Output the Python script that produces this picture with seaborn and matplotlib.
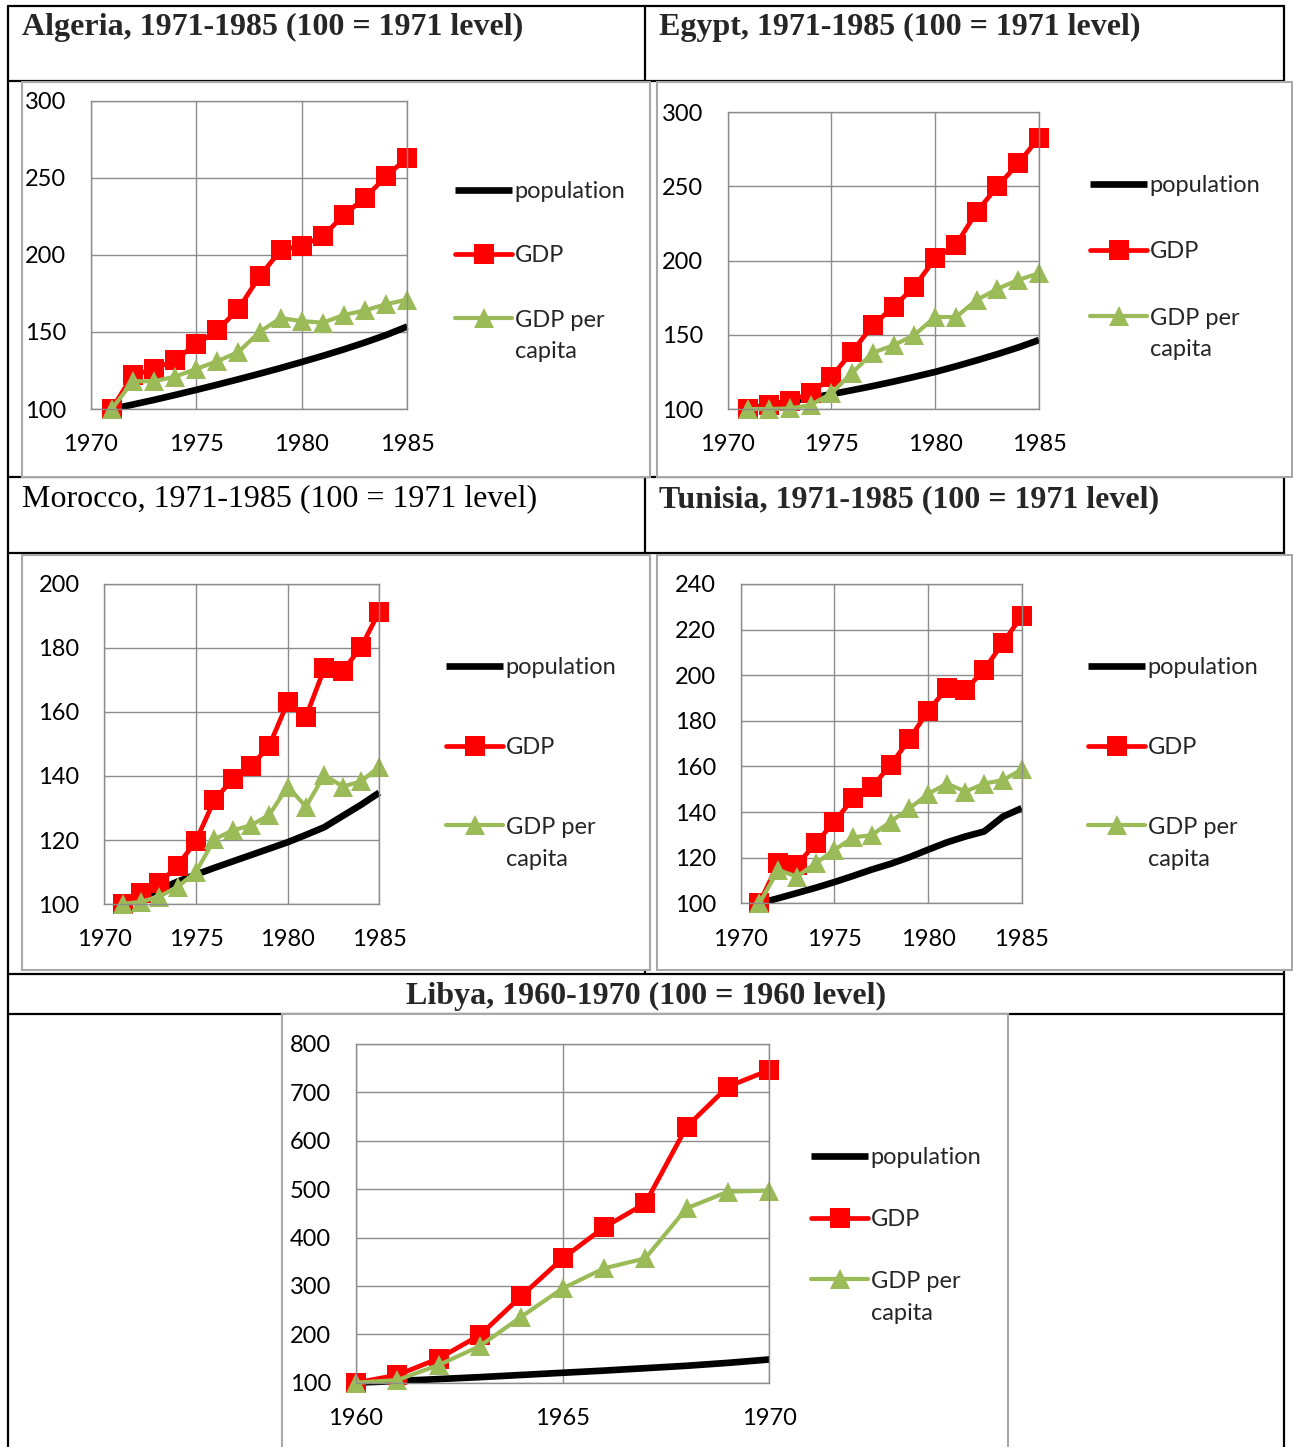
import matplotlib
matplotlib.use("Agg")
import matplotlib.pyplot as plt
import seaborn as sns
from matplotlib.patches import Rectangle
from matplotlib.lines import Line2D

# data (index, 100 = first year)
years_7185 = list(range(1971, 1986))
years_6070 = list(range(1960, 1971))

algeria_pop = [100, 102.9, 105.9, 109.1, 112.4, 115.8, 119.3, 122.9, 126.6, 130.5, 134.5, 138.7, 143.2, 148, 153.5]
algeria_gdp = [100, 122, 125.7, 132, 142, 151, 165, 186, 203, 206, 212, 226, 237, 251, 263]
algeria_gdppc = [100, 118, 118, 121, 126, 131, 137, 150, 159, 157, 156, 161, 164, 168, 171]

egypt_pop = [100, 102.5, 105, 107.5, 110, 112.7, 115.5, 118.5, 121.7, 125, 128.8, 132.8, 137, 141.5, 146.5]
egypt_gdp = [100, 102.7, 105.6, 110.6, 121.8, 138.7, 156.6, 169, 182.5, 201.6, 210.6, 233, 250, 265.6, 283]
egypt_gdppc = [100, 100, 100.4, 102.7, 110.6, 124.5, 138, 143, 150, 162, 162, 173.5, 181, 187, 191.5]

morocco_pop = [100, 102, 104.5, 107, 109.2, 111.3, 113.3, 115.3, 117.3, 119.3, 121.6, 124, 127.5, 131, 134.8]
morocco_gdp = [100, 103.3, 106.5, 112, 119.7, 132.5, 139, 143, 149.5, 163, 158.5, 173.6, 172.8, 180.2, 191.4]
morocco_gdppc = [100, 100.7, 102.3, 105.4, 110, 120.2, 123, 124.6, 127.8, 136.7, 130.4, 140.3, 136.7, 138.3, 142.9]

tunisia_pop = [100, 102.2, 104.5, 106.8, 109.3, 112, 114.8, 117.3, 120.2, 123.5, 126.7, 129.3, 131.5, 138, 141.7]
tunisia_gdp = [100, 117.5, 116.8, 126.3, 135.8, 146, 151, 160.6, 171.9, 184.3, 194.2, 193.5, 202.5, 214.2, 226]
tunisia_gdppc = [100, 114.6, 111.7, 117.5, 123.4, 128.9, 129.9, 135.8, 141.6, 147.9, 152.5, 149, 152.5, 154, 158.7]

libya_pop = [100, 103.5, 107.5, 111.5, 116, 120.5, 125, 130, 135, 141, 148]
libya_gdp = [100, 115.8, 150, 198.5, 279, 357, 421, 470.7, 629, 712, 746]
libya_gdppc = [100, 105.5, 136.5, 175.8, 236.4, 295, 336.3, 357, 460.4, 494.8, 497]

legend_labels = ["population", "GDP", "GDP per"]
legend_extra = "capita"

sns.set_theme(style="white")
plt.rcParams['font.family'] = ['Lato', 'DejaVu Sans']

W, H = 1293, 1447
fig = plt.figure(figsize=(W / 100, H / 100), dpi=100)


def fx(x):
    return x / W


def fy(y):
    return 1 - y / H


GRID = '#8c8c8c'
BOX = '#a8a8a8'
FS = 17


def tline(x0, y0, x1, y1):
    fig.add_artist(Line2D([fx(x0), fx(x1)], [fy(y0), fy(y1)], color='black',
                          lw=1.6, zorder=-3, transform=fig.transFigure))


# table borders
for y in [6, 81, 477, 553, 974, 1013.5]:
    tline(8, y, 1284, y)
tline(8, 6, 8, 1447)
tline(1283.5, 6, 1283.5, 1447)
tline(644.5, 6, 644.5, 974)

serif = ['Liberation Serif', 'DejaVu Serif']
fig.text(fx(22), fy(27), "Algeria, 1971-1985 (100 = 1971 level)", ha='left', va='center',
         family=serif, weight='bold', size=23)
fig.text(fx(659), fy(27), "Egypt, 1971-1985 (100 = 1971 level)", ha='left', va='center',
         family=serif, weight='bold', size=23)
fig.text(fx(22), fy(499), "Morocco, 1971-1985 (100 = 1971 level)", ha='left', va='center',
         family=serif, size=23, color='black')
fig.text(fx(659), fy(500), "Tunisia, 1971-1985 (100 = 1971 level)", ha='left', va='center',
         family=serif, weight='bold', size=23)
fig.text(fx(646), fy(996), "Libya, 1960-1970 (100 = 1960 level)", ha='center', va='center',
         family=serif, weight='bold', size=23)


def chart(box, area, years, pop, gdp, gdppc, xticks, yticks, leg_x, leg_y, leg_gap):
    x0, y0, x1, y1 = box
    fig.add_artist(Rectangle((fx(x0), fy(y1)), fx(x1) - fx(x0), fy(y0) - fy(y1),
                             facecolor='white', edgecolor=BOX, lw=1.5, zorder=-2,
                             transform=fig.transFigure))
    a0, b0, a1, b1 = area
    ax = fig.add_axes([fx(a0), fy(b1), fx(a1) - fx(a0), fy(b0) - fy(b1)])

    sns.lineplot(x=years, y=pop, ax=ax, color='black', linewidth=4.8,
                 solid_capstyle='butt', clip_on=False)
    sns.lineplot(x=years, y=gdp, ax=ax, color='#ff0000', linewidth=3.4, marker='s',
                 markersize=14.5, markeredgewidth=0, clip_on=False)
    sns.lineplot(x=years, y=gdppc, ax=ax, color='#9bbb59', linewidth=3.0, marker='^',
                 markersize=14.5, markeredgewidth=0, clip_on=False)

    ax.set_xlim(xticks[0], xticks[-1])
    ax.set_ylim(yticks[0], yticks[-1])
    ax.set_xticks(xticks)
    ax.set_yticks(yticks)
    ax.set_xlabel('')
    ax.set_ylabel('')
    ax.grid(True, color=GRID, lw=1.0)
    ax.set_axisbelow(True)
    for s in ax.spines.values():
        s.set_color(GRID)
        s.set_linewidth(1.0)
    ax.tick_params(axis='both', direction='out', length=5.8, width=1.0, color=GRID,
                   labelsize=FS, labelcolor='black')
    ax.tick_params(axis='y', pad=12)
    ax.tick_params(axis='x', pad=12.5)
    ax.patch.set_alpha(0)

    fs_px = FS * 100 / 72
    row_h = 0.92 * fs_px
    top = leg_y + 2 - row_h / 2
    ax.legend(ax.get_lines()[:3], legend_labels, loc='upper left',
              bbox_to_anchor=(fx(leg_x), fy(top)),
              bbox_transform=fig.transFigure, frameon=False, fontsize=FS,
              handlelength=57 / fs_px, handletextpad=0.12,
              labelspacing=(leg_gap - row_h) / fs_px, borderpad=0,
              borderaxespad=0)
    fig.text(fx(leg_x + 57 + 0.12 * fs_px), fy(leg_y + 2 * leg_gap + 32), legend_extra,
             ha='left', va='center', fontsize=FS)
    return ax


chart((22, 82, 650, 477), (90.7, 100.7, 407.3, 409), years_7185,
      algeria_pop, algeria_gdp, algeria_gdppc,
      [1970, 1975, 1980, 1985], [100, 150, 200, 250, 300], 455, 190, 65)
chart((657, 82, 1292, 477), (727.7, 112.3, 1039, 409), years_7185,
      egypt_pop, egypt_gdp, egypt_gdppc,
      [1970, 1975, 1980, 1985], [100, 150, 200, 250, 300], 1090, 184, 67)
chart((22, 555, 650, 970), (104.3, 584, 379.3, 904), years_7185,
      morocco_pop, morocco_gdp, morocco_gdppc,
      [1970, 1975, 1980, 1985], [100, 120, 140, 160, 180, 200], 446, 666, 80.5)
chart((657, 555, 1292, 970), (740.7, 584, 1021.7, 903.3), years_7185,
      tunisia_pop, tunisia_gdp, tunisia_gdppc,
      [1970, 1975, 1980, 1985], [100, 120, 140, 160, 180, 200, 220, 240], 1088, 666, 80.5)
chart((282, 1014, 1008, 1470), (356, 1044, 769.3, 1382.7), years_6070,
      libya_pop, libya_gdp, libya_gdppc,
      [1960, 1965, 1970], [100, 200, 300, 400, 500, 600, 700, 800], 811, 1156, 62.5)

fig.savefig("out.png", dpi=100)
